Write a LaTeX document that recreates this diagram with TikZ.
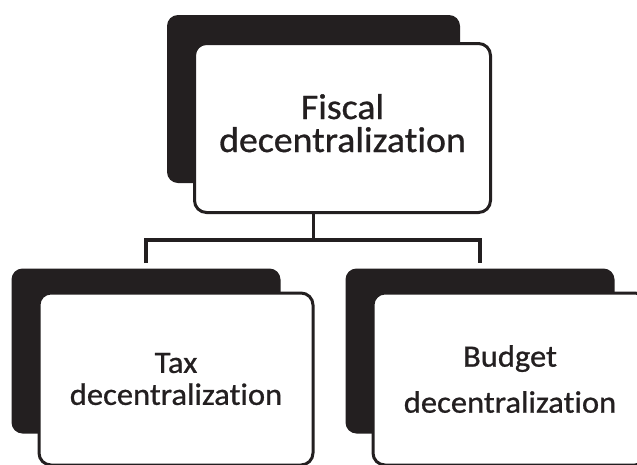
\documentclass[tikz,border=0pt]{standalone}
\usepackage{fontspec}
\setmainfont{Carlito}[Ligatures=NoCommon, FakeBold=0.8, FakeStretch=1.05]
\usetikzlibrary{positioning}
\definecolor{ink}{HTML}{231F20}
\tikzset{
  every picture/.style={line width=3pt, text=ink},
  back/.style={fill=ink, rounded corners=11pt, inner sep=0pt},
  card/.style={draw=ink, fill=white, rounded corners=12pt, align=center, inner sep=0pt},
  link/.style={draw=ink, line width=3.5pt},
}
\begin{document}
\begin{tikzpicture}[x=1pt, y=-1pt,
  top/.style={font=\fontsize{36}{33}\selectfont, text depth=10pt},
  low/.style={font=\fontsize{31}{32}\selectfont}]
  \useasboundingbox (0,0) rectangle (637,464);
  \clip (0,0) rectangle (637,464);
  \fill[white] (0,0) rectangle (637,464);
  \node[back, minimum width=293pt, minimum height=168pt] (fiscalbk) at (313.5,99) {};
  \node[card, top, minimum width=296pt, minimum height=169pt] (fiscal) at (342.5,128) {Fiscal\\decentralization};
  \foreach \n/\x/\t/\g in {tax/176/Tax/0pt, budget/510/Budget/14pt} {
    \node[back, minimum width=269pt, minimum height=165pt] (\n bk) at (\x-30,351) {};
    \node[card, low, minimum width=274pt, minimum height=172pt] (\n) at (\x,379) {\t\\[\g]decentralization};
  }
  \draw[link] (fiscalbk.south |- fiscal.south) -- ++(0,26) coordinate (fork);
  \draw[link] ([yshift=4pt]taxbk.north) |- (fork) -| ([yshift=4pt]budgetbk.north);
\end{tikzpicture}
\end{document}
